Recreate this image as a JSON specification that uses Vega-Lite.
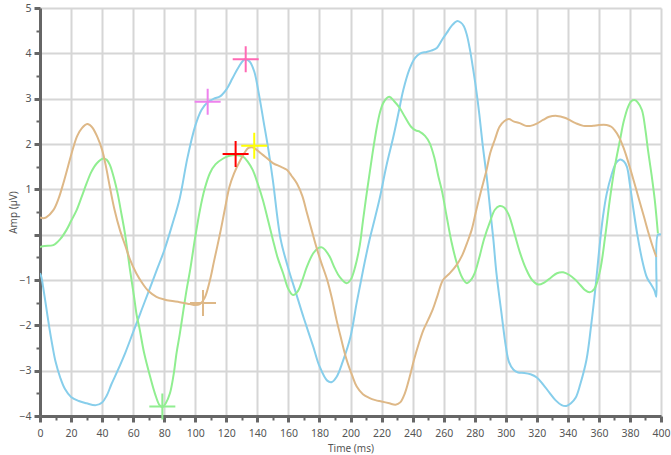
{
  "$schema": "https://vega.github.io/schema/vega-lite/v6.json",
  "width": 621,
  "height": 408,
  "autosize": {"type": "none"},
  "padding": {"left": 40, "top": 8, "right": 10, "bottom": 39},
  "background": "white",
  "config": {
    "view": {"stroke": null},
    "font": "Noto Sans",
    "axis": {"labelFont": "Noto Sans", "titleFont": "Noto Sans", "labelColor": "#555", "titleColor": "#555", "labelFontSize": 10.5, "titleFontSize": 10, "titleFontWeight": "normal"}
  },
  "datasets": {
    "lines": [
      {"s":"blue","t":0,"v":-0.85},{"s":"blue","t":1,"v":-0.95},{"s":"blue","t":2,"v":-1.15},{"s":"blue","t":4,"v":-1.6},{"s":"blue","t":6,"v":-2.05},{"s":"blue","t":8,"v":-2.45},{"s":"blue","t":10,"v":-2.8},{"s":"blue","t":13,"v":-3.15},{"s":"blue","t":16,"v":-3.4},{"s":"blue","t":20,"v":-3.58},{"s":"blue","t":25,"v":-3.67},{"s":"blue","t":30,"v":-3.72},{"s":"blue","t":36,"v":-3.76},{"s":"blue","t":40,"v":-3.7},{"s":"blue","t":43,"v":-3.55},{"s":"blue","t":46,"v":-3.3},{"s":"blue","t":50,"v":-3.0},{"s":"blue","t":55,"v":-2.6},{"s":"blue","t":60,"v":-2.15},{"s":"blue","t":65,"v":-1.7},{"s":"blue","t":70,"v":-1.25},{"s":"blue","t":75,"v":-0.8},{"s":"blue","t":80,"v":-0.35},{"s":"blue","t":85,"v":0.2},{"s":"blue","t":90,"v":0.8},{"s":"blue","t":95,"v":1.7},{"s":"blue","t":100,"v":2.4},{"s":"blue","t":104,"v":2.75},{"s":"blue","t":108,"v":2.92},{"s":"blue","t":112,"v":3.0},{"s":"blue","t":116,"v":3.05},{"s":"blue","t":120,"v":3.2},{"s":"blue","t":124,"v":3.45},{"s":"blue","t":128,"v":3.7},{"s":"blue","t":132,"v":3.87},{"s":"blue","t":135,"v":3.82},{"s":"blue","t":138,"v":3.6},{"s":"blue","t":141,"v":3.1},{"s":"blue","t":144,"v":2.5},{"s":"blue","t":147,"v":1.9},{"s":"blue","t":150,"v":1.2},{"s":"blue","t":155,"v":-0.1},{"s":"blue","t":160,"v":-0.75},{"s":"blue","t":165,"v":-1.3},{"s":"blue","t":170,"v":-1.85},{"s":"blue","t":176,"v":-2.47},{"s":"blue","t":180,"v":-2.9},{"s":"blue","t":185,"v":-3.22},{"s":"blue","t":188,"v":-3.25},{"s":"blue","t":191,"v":-3.14},{"s":"blue","t":195,"v":-2.8},{"s":"blue","t":200,"v":-2.25},{"s":"blue","t":204,"v":-1.5},{"s":"blue","t":208,"v":-0.8},{"s":"blue","t":212,"v":-0.15},{"s":"blue","t":216,"v":0.4},{"s":"blue","t":219,"v":0.83},{"s":"blue","t":223,"v":1.5},{"s":"blue","t":227.6,"v":2.16},{"s":"blue","t":231,"v":2.7},{"s":"blue","t":234,"v":3.19},{"s":"blue","t":238,"v":3.65},{"s":"blue","t":241.6,"v":3.9},{"s":"blue","t":245,"v":4.0},{"s":"blue","t":249,"v":4.03},{"s":"blue","t":252,"v":4.06},{"s":"blue","t":255.6,"v":4.12},{"s":"blue","t":259,"v":4.3},{"s":"blue","t":262,"v":4.45},{"s":"blue","t":265,"v":4.6},{"s":"blue","t":268.5,"v":4.71},{"s":"blue","t":271,"v":4.68},{"s":"blue","t":273,"v":4.6},{"s":"blue","t":275,"v":4.4},{"s":"blue","t":277,"v":4.07},{"s":"blue","t":279,"v":3.65},{"s":"blue","t":281,"v":3.19},{"s":"blue","t":283,"v":2.65},{"s":"blue","t":285,"v":2.02},{"s":"blue","t":288,"v":1.2},{"s":"blue","t":290,"v":0.54},{"s":"blue","t":292,"v":-0.1},{"s":"blue","t":294,"v":-0.85},{"s":"blue","t":297.5,"v":-1.8},{"s":"blue","t":300,"v":-2.45},{"s":"blue","t":302,"v":-2.8},{"s":"blue","t":305,"v":-2.98},{"s":"blue","t":308,"v":-3.04},{"s":"blue","t":312,"v":-3.05},{"s":"blue","t":316,"v":-3.08},{"s":"blue","t":320,"v":-3.15},{"s":"blue","t":324,"v":-3.3},{"s":"blue","t":328,"v":-3.48},{"s":"blue","t":332,"v":-3.65},{"s":"blue","t":336,"v":-3.76},{"s":"blue","t":339,"v":-3.78},{"s":"blue","t":342,"v":-3.72},{"s":"blue","t":345,"v":-3.6},{"s":"blue","t":348,"v":-3.3},{"s":"blue","t":352,"v":-2.76},{"s":"blue","t":355,"v":-2.0},{"s":"blue","t":358,"v":-1.1},{"s":"blue","t":360,"v":-0.4},{"s":"blue","t":362.6,"v":0.39},{"s":"blue","t":365,"v":0.9},{"s":"blue","t":368,"v":1.3},{"s":"blue","t":371,"v":1.58},{"s":"blue","t":373.6,"v":1.66},{"s":"blue","t":376,"v":1.62},{"s":"blue","t":378,"v":1.5},{"s":"blue","t":380,"v":1.1},{"s":"blue","t":382,"v":0.61},{"s":"blue","t":385,"v":-0.05},{"s":"blue","t":388,"v":-0.58},{"s":"blue","t":391,"v":-0.95},{"s":"blue","t":394,"v":-1.12},{"s":"blue","t":396,"v":-1.25},{"s":"blue","t":397,"v":-1.37},{"s":"blue","t":398,"v":0.0},{"s":"blue","t":400,"v":0.0},

      {"s":"green","t":0,"v":-0.27},{"s":"green","t":3,"v":-0.25},{"s":"green","t":8.6,"v":-0.23},{"s":"green","t":13,"v":-0.1},{"s":"green","t":17,"v":0.1},{"s":"green","t":20,"v":0.3},{"s":"green","t":23.6,"v":0.54},{"s":"green","t":27,"v":0.85},{"s":"green","t":30,"v":1.13},{"s":"green","t":33,"v":1.38},{"s":"green","t":36.5,"v":1.57},{"s":"green","t":40.8,"v":1.68},{"s":"green","t":43,"v":1.65},{"s":"green","t":45,"v":1.54},{"s":"green","t":48,"v":1.2},{"s":"green","t":50,"v":0.91},{"s":"green","t":52.5,"v":0.45},{"s":"green","t":54.7,"v":0.03},{"s":"green","t":58,"v":-0.78},{"s":"green","t":60.5,"v":-1.35},{"s":"green","t":62.4,"v":-1.8},{"s":"green","t":64,"v":-2.05},{"s":"green","t":67,"v":-2.6},{"s":"green","t":71,"v":-3.14},{"s":"green","t":74,"v":-3.5},{"s":"green","t":77,"v":-3.76},{"s":"green","t":79,"v":-3.8},{"s":"green","t":81,"v":-3.72},{"s":"green","t":83.7,"v":-3.5},{"s":"green","t":86,"v":-3.1},{"s":"green","t":88,"v":-2.6},{"s":"green","t":90,"v":-2.2},{"s":"green","t":92.4,"v":-1.66},{"s":"green","t":94.5,"v":-1.2},{"s":"green","t":96.6,"v":-0.8},{"s":"green","t":100,"v":-0.05},{"s":"green","t":103,"v":0.54},{"s":"green","t":106,"v":1.0},{"s":"green","t":109.5,"v":1.36},{"s":"green","t":113,"v":1.55},{"s":"green","t":118,"v":1.68},{"s":"green","t":122,"v":1.74},{"s":"green","t":125.6,"v":1.76},{"s":"green","t":130.8,"v":1.72},{"s":"green","t":134,"v":1.6},{"s":"green","t":137,"v":1.43},{"s":"green","t":140,"v":1.15},{"s":"green","t":143.6,"v":0.76},{"s":"green","t":147,"v":0.3},{"s":"green","t":150,"v":-0.11},{"s":"green","t":153,"v":-0.5},{"s":"green","t":156.6,"v":-0.85},{"s":"green","t":160,"v":-1.2},{"s":"green","t":163,"v":-1.33},{"s":"green","t":166,"v":-1.25},{"s":"green","t":169,"v":-1.0},{"s":"green","t":172,"v":-0.7},{"s":"green","t":176,"v":-0.41},{"s":"green","t":179,"v":-0.3},{"s":"green","t":181.6,"v":-0.28},{"s":"green","t":184,"v":-0.35},{"s":"green","t":186.8,"v":-0.5},{"s":"green","t":190,"v":-0.75},{"s":"green","t":193,"v":-0.93},{"s":"green","t":197.5,"v":-1.07},{"s":"green","t":200,"v":-1.0},{"s":"green","t":203,"v":-0.71},{"s":"green","t":206,"v":-0.23},{"s":"green","t":208,"v":0.3},{"s":"green","t":211,"v":1.05},{"s":"green","t":214,"v":1.75},{"s":"green","t":217,"v":2.38},{"s":"green","t":219,"v":2.7},{"s":"green","t":221,"v":2.9},{"s":"green","t":223,"v":3.0},{"s":"green","t":225,"v":3.04},{"s":"green","t":228,"v":2.95},{"s":"green","t":231.6,"v":2.8},{"s":"green","t":235,"v":2.6},{"s":"green","t":239,"v":2.38},{"s":"green","t":242,"v":2.3},{"s":"green","t":244.7,"v":2.27},{"s":"green","t":248,"v":2.18},{"s":"green","t":251,"v":2.02},{"s":"green","t":254,"v":1.7},{"s":"green","t":256.5,"v":1.3},{"s":"green","t":259,"v":0.95},{"s":"green","t":262,"v":0.39},{"s":"green","t":265,"v":-0.15},{"s":"green","t":268.5,"v":-0.63},{"s":"green","t":272,"v":-0.95},{"s":"green","t":275,"v":-1.07},{"s":"green","t":278,"v":-0.98},{"s":"green","t":280,"v":-0.85},{"s":"green","t":283,"v":-0.5},{"s":"green","t":286,"v":-0.1},{"s":"green","t":290,"v":0.3},{"s":"green","t":293,"v":0.55},{"s":"green","t":296,"v":0.63},{"s":"green","t":299,"v":0.6},{"s":"green","t":302,"v":0.43},{"s":"green","t":305,"v":0.1},{"s":"green","t":309,"v":-0.38},{"s":"green","t":313,"v":-0.75},{"s":"green","t":317,"v":-1.0},{"s":"green","t":321,"v":-1.1},{"s":"green","t":325,"v":-1.05},{"s":"green","t":329,"v":-0.95},{"s":"green","t":333,"v":-0.85},{"s":"green","t":337,"v":-0.83},{"s":"green","t":341,"v":-0.89},{"s":"green","t":345,"v":-1.0},{"s":"green","t":348,"v":-1.11},{"s":"green","t":351,"v":-1.22},{"s":"green","t":354,"v":-1.27},{"s":"green","t":357,"v":-1.2},{"s":"green","t":360.7,"v":-0.8},{"s":"green","t":364,"v":-0.05},{"s":"green","t":367,"v":0.76},{"s":"green","t":370,"v":1.45},{"s":"green","t":373.6,"v":2.09},{"s":"green","t":376,"v":2.5},{"s":"green","t":378.8,"v":2.82},{"s":"green","t":381,"v":2.95},{"s":"green","t":383,"v":2.97},{"s":"green","t":385,"v":2.92},{"s":"green","t":387.7,"v":2.75},{"s":"green","t":390,"v":2.3},{"s":"green","t":391.6,"v":1.87},{"s":"green","t":394,"v":1.3},{"s":"green","t":396,"v":0.76},{"s":"green","t":398,"v":0.03},

      {"s":"tan","t":0,"v":0.38},{"s":"tan","t":2,"v":0.36},{"s":"tan","t":4,"v":0.38},{"s":"tan","t":8.6,"v":0.54},{"s":"tan","t":12,"v":0.8},{"s":"tan","t":15,"v":1.13},{"s":"tan","t":18,"v":1.5},{"s":"tan","t":21.5,"v":1.93},{"s":"tan","t":24,"v":2.18},{"s":"tan","t":27,"v":2.35},{"s":"tan","t":30.4,"v":2.44},{"s":"tan","t":32,"v":2.42},{"s":"tan","t":34,"v":2.35},{"s":"tan","t":37,"v":2.15},{"s":"tan","t":40,"v":1.87},{"s":"tan","t":42.5,"v":1.5},{"s":"tan","t":45,"v":1.05},{"s":"tan","t":48,"v":0.55},{"s":"tan","t":51.5,"v":0.1},{"s":"tan","t":55,"v":-0.25},{"s":"tan","t":58,"v":-0.55},{"s":"tan","t":62,"v":-0.85},{"s":"tan","t":66.5,"v":-1.1},{"s":"tan","t":70,"v":-1.25},{"s":"tan","t":75,"v":-1.37},{"s":"tan","t":80,"v":-1.43},{"s":"tan","t":84,"v":-1.46},{"s":"tan","t":90,"v":-1.49},{"s":"tan","t":96.6,"v":-1.53},{"s":"tan","t":100,"v":-1.55},{"s":"tan","t":103,"v":-1.53},{"s":"tan","t":106,"v":-1.4},{"s":"tan","t":109.5,"v":-1.0},{"s":"tan","t":112,"v":-0.6},{"s":"tan","t":116,"v":0.03},{"s":"tan","t":119,"v":0.55},{"s":"tan","t":122,"v":1.05},{"s":"tan","t":125,"v":1.35},{"s":"tan","t":129,"v":1.64},{"s":"tan","t":132,"v":1.82},{"s":"tan","t":134,"v":1.91},{"s":"tan","t":136.5,"v":1.93},{"s":"tan","t":138.5,"v":1.9},{"s":"tan","t":142,"v":1.8},{"s":"tan","t":145,"v":1.72},{"s":"tan","t":150,"v":1.58},{"s":"tan","t":155,"v":1.5},{"s":"tan","t":159,"v":1.43},{"s":"tan","t":162,"v":1.3},{"s":"tan","t":165.5,"v":1.13},{"s":"tan","t":169,"v":0.85},{"s":"tan","t":172,"v":0.47},{"s":"tan","t":175,"v":0.1},{"s":"tan","t":178,"v":-0.27},{"s":"tan","t":181,"v":-0.6},{"s":"tan","t":185,"v":-1.0},{"s":"tan","t":188,"v":-1.4},{"s":"tan","t":191,"v":-1.88},{"s":"tan","t":194,"v":-2.3},{"s":"tan","t":197.5,"v":-2.76},{"s":"tan","t":201,"v":-3.1},{"s":"tan","t":204,"v":-3.35},{"s":"tan","t":208,"v":-3.52},{"s":"tan","t":212,"v":-3.6},{"s":"tan","t":216,"v":-3.65},{"s":"tan","t":220,"v":-3.68},{"s":"tan","t":225,"v":-3.72},{"s":"tan","t":229,"v":-3.75},{"s":"tan","t":232,"v":-3.7},{"s":"tan","t":235,"v":-3.5},{"s":"tan","t":238,"v":-3.15},{"s":"tan","t":241,"v":-2.75},{"s":"tan","t":244,"v":-2.4},{"s":"tan","t":247,"v":-2.1},{"s":"tan","t":250,"v":-1.88},{"s":"tan","t":253,"v":-1.65},{"s":"tan","t":256,"v":-1.35},{"s":"tan","t":259.6,"v":-1.0},{"s":"tan","t":264,"v":-0.85},{"s":"tan","t":268.5,"v":-0.66},{"s":"tan","t":272,"v":-0.45},{"s":"tan","t":275,"v":-0.19},{"s":"tan","t":278,"v":0.1},{"s":"tan","t":281,"v":0.54},{"s":"tan","t":284,"v":0.95},{"s":"tan","t":287.6,"v":1.42},{"s":"tan","t":290,"v":1.8},{"s":"tan","t":293,"v":2.1},{"s":"tan","t":296,"v":2.38},{"s":"tan","t":299,"v":2.5},{"s":"tan","t":302,"v":2.55},{"s":"tan","t":305,"v":2.5},{"s":"tan","t":309,"v":2.46},{"s":"tan","t":313,"v":2.4},{"s":"tan","t":316,"v":2.4},{"s":"tan","t":320,"v":2.45},{"s":"tan","t":324,"v":2.53},{"s":"tan","t":328,"v":2.6},{"s":"tan","t":333,"v":2.62},{"s":"tan","t":338,"v":2.58},{"s":"tan","t":341,"v":2.53},{"s":"tan","t":345,"v":2.46},{"s":"tan","t":350,"v":2.4},{"s":"tan","t":356,"v":2.4},{"s":"tan","t":360,"v":2.42},{"s":"tan","t":365,"v":2.42},{"s":"tan","t":368,"v":2.38},{"s":"tan","t":370,"v":2.31},{"s":"tan","t":373,"v":2.15},{"s":"tan","t":375.6,"v":1.94},{"s":"tan","t":378,"v":1.7},{"s":"tan","t":381,"v":1.36},{"s":"tan","t":384,"v":1.0},{"s":"tan","t":386.5,"v":0.7},{"s":"tan","t":389,"v":0.4},{"s":"tan","t":392,"v":0.03},{"s":"tan","t":395,"v":-0.3},{"s":"tan","t":397,"v":-0.49}
    ],
    "marks": [
      {"m":"pink","t":132.5,"v":3.87},
      {"m":"violet","t":108,"v":2.93},
      {"m":"red","t":126,"v":1.78},
      {"m":"yellow","t":138,"v":1.96},
      {"m":"tan","t":105,"v":-1.51},
      {"m":"green","t":78.8,"v":-3.79}
    ]
  },
  "layer": [
    {
      "data": {"name": "lines"},
      "mark": {"type": "line", "interpolate": "catmull-rom", "strokeWidth": 2, "clip": true},
      "encoding": {
        "x": {"field": "t", "type": "quantitative", "scale": {"domain": [0, 400], "nice": false, "zero": false},
          "axis": {"title": "Time (ms)", "values": [0,20,40,60,80,100,120,140,160,180,200,220,240,260,280,300,320,340,360,380,400], "grid": true, "gridColor": "#d6d6d6", "gridWidth": 2, "domainColor": "#666", "domainWidth": 3, "tickColor": "#666", "tickWidth": 3, "tickSize": 6, "labelPadding": 6, "titlePadding": 5, "labelFlush": false, "labelOverlap": false}},
        "y": {"field": "v", "type": "quantitative", "scale": {"domain": [-4, 5], "nice": false, "zero": false},
          "axis": {"title": "Amp (µV)", "values": [-4,-3,-2,-1,0,1,2,3,4,5], "labelExpr": "datum.value == 0 ? '' : datum.label", "grid": true, "gridColor": "#d6d6d6", "gridWidth": 2, "domainColor": "#666", "domainWidth": 3, "tickColor": "#666", "tickWidth": 3, "tickSize": 6, "labelPadding": 3, "titlePadding": 0, "labelFlush": false, "labelOverlap": false}},
        "color": {"field": "s", "type": "nominal", "legend": null, "scale": {"domain": ["blue", "green", "tan"], "range": ["#87CEEB", "#90EE90", "#DEB887"]}},
        "detail": {"field": "s"}
      }
    },
    {
      "data": {"name": "marks"},
      "mark": {"type": "point", "shape": "M-1,0L1,0M0,-1L0,1", "filled": false, "strokeWidth": 2, "size": 676, "opacity": 1},
      "encoding": {
        "x": {"field": "t", "type": "quantitative",
          "axis": {"orient": "bottom", "title": null, "labels": false, "grid": false, "domain": false, "values": [10,30,50,70,90,110,130,150,170,190,210,230,250,270,290,310,330,350,370,390], "tickColor": "#666", "tickWidth": 2, "tickSize": 4}},
        "y": {"field": "v", "type": "quantitative",
          "axis": {"orient": "left", "title": null, "labels": false, "grid": false, "domain": false, "values": [-3.5,-2.5,-1.5,-0.5,0.5,1.5,2.5,3.5,4.5], "tickColor": "#666", "tickWidth": 2, "tickSize": 4}},
        "color": {"field": "m", "type": "nominal", "legend": null, "scale": {"domain": ["pink", "violet", "red", "yellow", "tan", "green"], "range": ["#FF69B4", "#EE82EE", "#FF0000", "#FFFF00", "#DEB887", "#90EE90"]}}
      }
    }
  ],
  "resolve": {"scale": {"color": "independent"}, "axis": {"x": "independent", "y": "independent"}}
}
